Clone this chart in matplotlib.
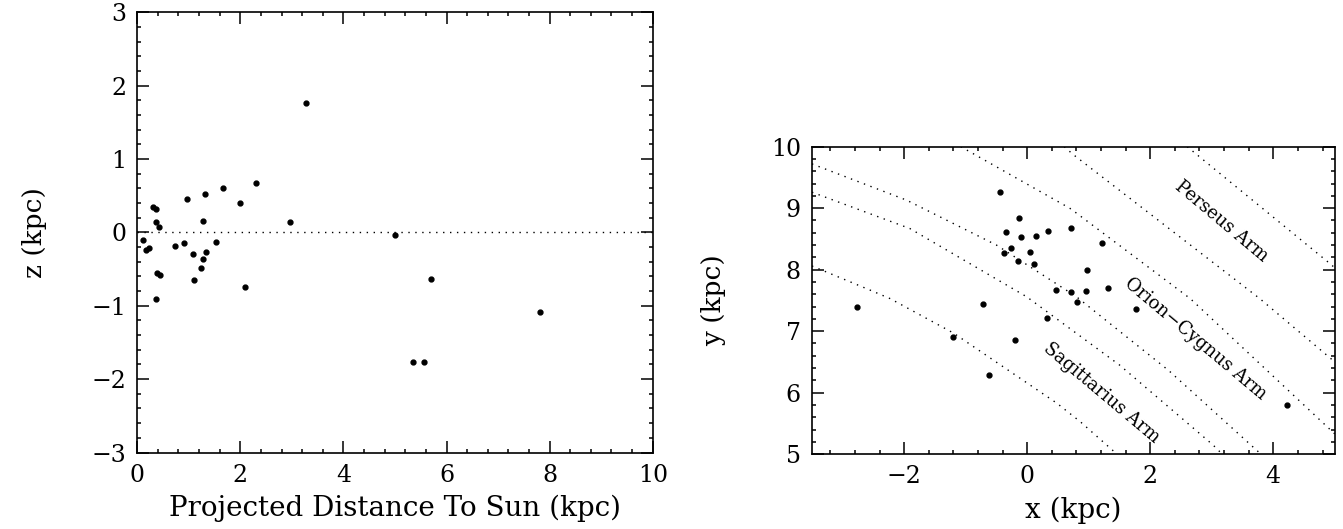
import matplotlib
matplotlib.use('Agg')
import matplotlib.pyplot as plt
from matplotlib.ticker import MultipleLocator

plt.rcParams['font.family'] = ['DejaVu Serif']
plt.rcParams['axes.unicode_minus'] = True

# left panel: projected distance to sun vs height z (kpc)
dist = [3.28, 2.30, 1.67, 1.32, 0.96, 2.00, 0.30, 0.37, 0.37, 1.27, 2.97,
        0.42, 5.01, 0.12, 0.16, 0.22, 0.74, 0.90, 1.53, 1.09, 1.33, 1.27,
        1.23, 0.39, 0.45, 1.11, 2.09, 0.37, 5.70, 7.82, 5.35, 5.57]
zh = [1.76, 0.68, 0.61, 0.52, 0.45, 0.40, 0.34, 0.32, 0.14, 0.15, 0.14,
      0.07, -0.03, -0.10, -0.24, -0.21, -0.18, -0.15, -0.13, -0.30, -0.27, -0.36,
      -0.49, -0.56, -0.58, -0.65, -0.75, -0.91, -0.63, -1.09, -1.77, -1.77]

# right panel: galactic plane positions (kpc)
gx = [-0.44, -0.135, -0.34, -0.107, 0.14, 0.34, -0.265, -0.374, 0.044, -0.151,
      0.114, 0.46, -2.76, -0.715, 0.315, -1.21, -0.205, -0.62, 0.715, 1.22,
      0.966, 0.706, 0.954, 1.31, 0.81, 1.76, 4.22]
gy = [9.27, 8.84, 8.61, 8.53, 8.55, 8.63, 8.36, 8.27, 8.28, 8.14,
      8.09, 7.67, 7.39, 7.45, 7.21, 6.91, 6.85, 6.28, 8.67, 8.43,
      7.99, 7.63, 7.65, 7.71, 7.47, 7.36, 5.80]

# arm boundaries
arm_x = [
    [-3.5, -2.56, -2.23, -1.20, 0.48, 0.86, 1.46],
    [-3.5, -1.91, -0.01, 1.5, 3.02, 3.17],
    [-3.5, -1.96, -0.50, 0.80, 2.3, 3.80],
    [-1.08, 0.69, 0.80, 2.65, 4.85, 5.0],
    [0.6, 0.75, 3.78, 5.0],
    [2.6, 4.92, 5.0],
]
arm_y = [
    [8.06, 7.67, 7.53, 6.97, 5.83, 5.53, 5.0],
    [9.26, 8.67, 7.56, 6.45, 5.15, 5.0],
    [9.72, 9.13, 8.40, 7.56, 6.36, 5.0],
    [10.0, 9.0, 8.92, 7.53, 5.47, 5.33],
    [10.0, 9.87, 7.53, 6.5],
    [10.0, 8.10, 8.03],
]
arm_names = ['Sagittarius Arm', 'Orion\u2212Cygnus Arm', 'Perseus Arm']
arm_lx = [1.21, 2.73, 3.15]
arm_ly = [6.0, 6.88, 8.79]

dotted = (0, (1, 4))


def style_axes(ax, xmaj, xmin, ymaj, ymin):
    ax.xaxis.set_major_locator(MultipleLocator(xmaj))
    ax.xaxis.set_minor_locator(MultipleLocator(xmin))
    ax.yaxis.set_major_locator(MultipleLocator(ymaj))
    ax.yaxis.set_minor_locator(MultipleLocator(ymin))
    ax.tick_params(which='both', direction='in', top=True, right=True,
                   width=1.1, labelsize=17, pad=8)
    ax.tick_params(which='major', length=8.3)
    ax.tick_params(which='minor', length=3.0)
    for s in ax.spines.values():
        s.set_linewidth(1.2)


fig = plt.figure(figsize=(13.43, 5.29), dpi=100)

ax1 = fig.add_axes([0.1022, 0.1446, 0.3838, 0.8321])
ax1.plot(dist, zh, 'o', color='black', ms=3.5)
ax1.axhline(0, color='black', lw=1.0, ls=dotted)
ax1.set_xlim(0, 10)
ax1.set_ylim(-3, 3)
style_axes(ax1, 2, 0.4, 1, 0.2)
ax1.set_xlabel('Projected Distance To Sun (kpc)', fontsize=20, labelpad=6)
ax1.set_ylabel('z (kpc)', fontsize=19, labelpad=32)

ax2 = fig.add_axes([0.6046, 0.1414, 0.3893, 0.5813])
for xs, ys in zip(arm_x, arm_y):
    ax2.plot(xs, ys, color='black', lw=1.0, ls=dotted)
ax2.plot(gx, gy, 'o', color='black', ms=3.5)
for name, lx, ly in zip(arm_names, arm_lx, arm_ly):
    ax2.text(lx, ly, name, rotation=-40, ha='center', va='center',
             fontsize=13, rotation_mode='anchor')
ax2.set_xlim(-3.5, 5)
ax2.set_ylim(5, 10)
style_axes(ax2, 2, 0.4, 1, 0.2)
ax2.set_xlabel('x (kpc)', fontsize=20, labelpad=6)
ax2.set_ylabel('y (kpc)', fontsize=19, labelpad=32)

fig.savefig('out.png', dpi=100)
